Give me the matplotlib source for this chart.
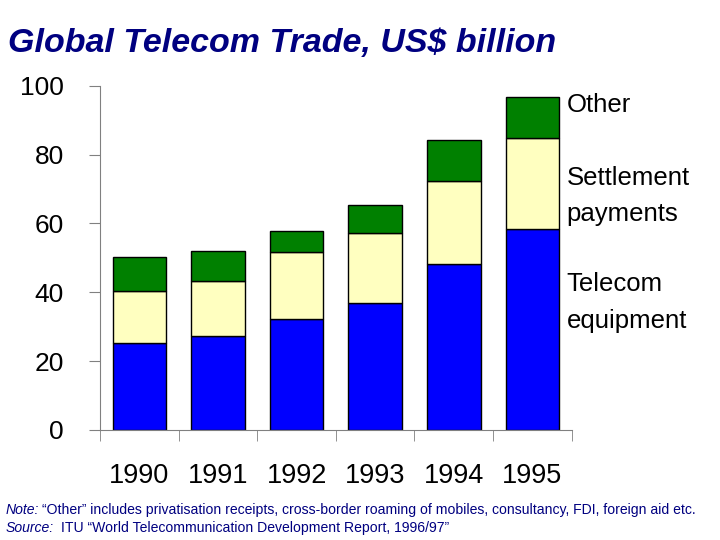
import matplotlib
matplotlib.use("Agg")
from matplotlib import pyplot as plt
import numpy as np

plt.rcParams['font.family'] = ['Liberation Sans', 'DejaVu Sans']

years = ["1990", "1991", "1992", "1993", "1994", "1995"]
equipment = [25.3, 27.3, 32.3, 36.9, 48.3, 58.4]
settlement = [15.1, 16.0, 19.4, 20.4, 24.1, 26.5]
other = [9.9, 8.7, 6.1, 8.1, 11.9, 11.9]

fig = plt.figure(figsize=(7.2, 5.4), dpi=100)
ax = fig.add_axes([0.139, 0.204, 0.655, 0.637])

x = np.arange(len(years))
w = 0.68
ax.bar(x, equipment, w, color="#0000FF", edgecolor="black", linewidth=1)
ax.bar(x, settlement, w, bottom=equipment, color="#FFFFC0", edgecolor="black", linewidth=1)
bottom2 = np.array(equipment) + np.array(settlement)
ax.bar(x, other, w, bottom=bottom2, color="#008000", edgecolor="black", linewidth=1)

ax.set_xlim(-0.5, 5.5)
ax.set_ylim(0, 100)
ax.set_yticks([0, 20, 40, 60, 80, 100])
ax.tick_params(axis="y", labelsize=19, length=8, color="gray", pad=18)
ax.set_xticks(x)
ax.set_xticklabels(years)
ax.tick_params(axis="x", labelsize=19.5, length=0, pad=24)
ax.set_xticks(np.arange(-0.5, 6, 1), minor=True)
ax.tick_params(axis="x", which="minor", length=8, color="gray")
for s in ["top", "right"]:
    ax.spines[s].set_visible(False)
for s in ["left", "bottom"]:
    ax.spines[s].set_color("gray")

fig.text(0.011, 0.92, "Global Telecom Trade, US$ billion", fontsize=24.5, fontstyle="italic",
         fontweight="bold", color="#000080", va="center")
fig.text(0.787, 0.805, "Other", fontsize=18.5, va="center")
fig.text(0.787, 0.637, "Settlement\npayments", fontsize=18.5, va="center", linespacing=1.65)
fig.text(0.787, 0.44, "Telecom\nequipment", fontsize=18.5, va="center", linespacing=1.65)

fs = 10.1
fig.text(0.008, 0.055, "Note:", fontsize=fs, color="#000080", va="center", fontstyle="italic")
fig.text(0.058, 0.055, "\u201cOther\u201d includes privatisation receipts, cross-border roaming of mobiles, consultancy, FDI, foreign aid etc.",
         fontsize=fs, color="#000080", va="center")
fig.text(0.008, 0.022, "Source:", fontsize=fs, color="#000080", va="center", fontstyle="italic")
fig.text(0.085, 0.022, "ITU \u201cWorld Telecommunication Development Report, 1996/97\u201d",
         fontsize=fs, color="#000080", va="center")

fig.savefig("out.png")
